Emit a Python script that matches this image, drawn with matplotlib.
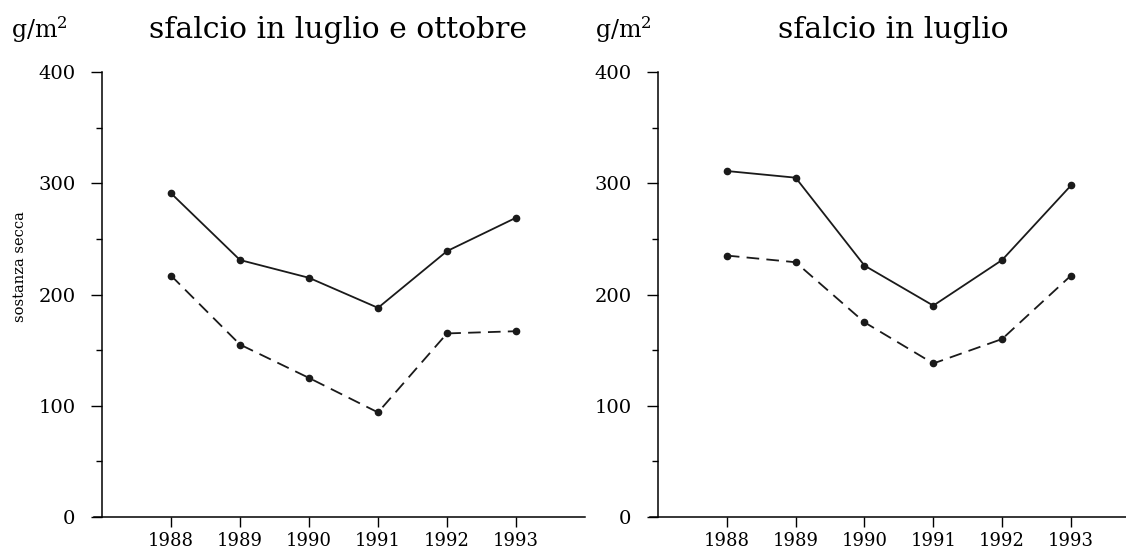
import numpy as np
import matplotlib.pyplot as plt
from matplotlib.ticker import MultipleLocator

################################################################
years = [1988, 1989, 1990, 1991, 1992, 1993]
# sfalcio in luglio e ottobre
lo_solid = [291, 231, 215, 188, 239, 269]
lo_dashed = [217, 155, 125, 94, 165, 167]
# sfalcio in luglio
l_solid = [311, 305, 226, 190, 231, 298]
l_dashed = [235, 229, 175, 138, 160, 217]
titles = ["sfalcio in luglio e ottobre", "sfalcio in luglio"]
unit = "g/m$^2$"
ylabel = "sostanza secca"
################################################################

plt.rcParams['font.family'] = ['DejaVu Serif']
plt.rcParams['mathtext.fontset'] = 'dejavuserif'

W, H = 1126, 553
fig = plt.figure(figsize=(W/100, H/100), dpi=100)
ax1 = fig.add_axes([102/W, 36/H, 483/W, 445/H])
ax2 = fig.add_axes([658/W, 36/H, 468/W, 445/H])

panels = [(ax1, lo_solid, lo_dashed, 1994.0), (ax2, l_solid, l_dashed, 1993.8)]
for ax, s, d, xmax in panels:
  ax.plot(years, s, '-', color='#1a1a1a', lw=1.3, marker='o', ms=4.5)
  ax.plot(years, d, '--', color='#1a1a1a', lw=1.3, marker='o', ms=4.5, dashes=(7, 4))
  ax.set_xlim(1987, xmax)
  ax.set_ylim(0, 400)
  ax.set_xticks(years)
  ax.set_yticks([0, 100, 200, 300, 400])
  ax.yaxis.set_minor_locator(MultipleLocator(50))
  ax.spines['top'].set_visible(False)
  ax.spines['right'].set_visible(False)
  ax.tick_params(axis='y', which='major', direction='out', length=8, width=1, labelsize=14, pad=11)
  ax.tick_params(axis='y', which='minor', direction='out', length=4, width=1)
  ax.tick_params(axis='x', direction='out', length=7, width=1, labelsize=13, pad=4)
  ax.spines['left'].set_linewidth(1.1)
  ax.spines['bottom'].set_linewidth(1.1)
  ax.spines['bottom'].set_bounds(1987 - 8/69.0, xmax)

fig.text(11/W, 1 - 30/H, unit, fontsize=17, va='center', ha='left')
fig.text(595/W, 1 - 30/H, unit, fontsize=17, va='center', ha='left')
fig.text(149/W, 1 - 30/H, titles[0], fontsize=21.5, va='center', ha='left')
fig.text(778/W, 1 - 30/H, titles[1], fontsize=21.5, va='center', ha='left')
fig.text(20/W, 1 - 267/H, ylabel, fontsize=10.5, rotation=90, va='center', ha='center')

plt.savefig('out.png', dpi=100)
